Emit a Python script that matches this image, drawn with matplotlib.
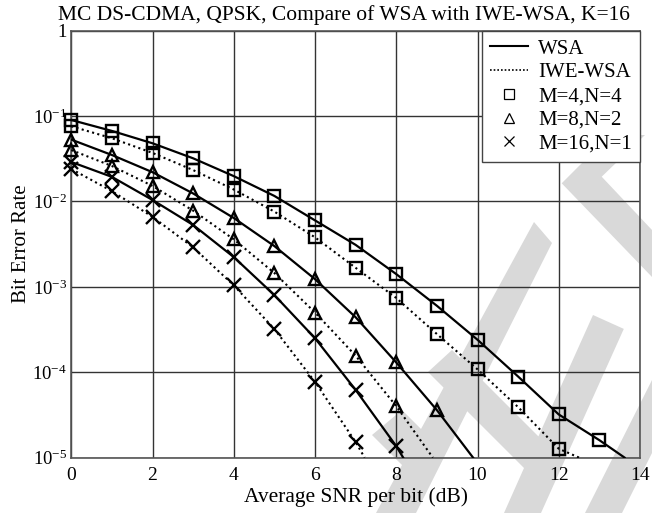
import matplotlib
matplotlib.use("Agg")
import matplotlib.pyplot as plt
from matplotlib.patches import Polygon
from matplotlib.lines import Line2D

plt.rcParams['font.family'] = ['Liberation Serif', 'DejaVu Serif']
plt.rcParams['mathtext.fontset'] = 'custom'
plt.rcParams['mathtext.rm'] = 'Liberation Serif'
plt.rcParams['mathtext.it'] = 'Liberation Serif:italic'

# ---- data ----
snr = list(range(0, 14))
wsa_m4 = [0.090, 0.067, 0.048, 0.032, 0.0198, 0.0116, 0.0060, 0.0031, 0.00141, 0.00060, 0.00024, 8.9e-5, 3.2e-5, 1.6e-5]
iwe_m4 = [0.076, 0.055, 0.037, 0.0233, 0.0138, 0.0076, 0.0038, 0.00167, 0.00074, 0.00028, 0.000108, 3.9e-5, 1.27e-5]
wsa_m8 = [0.053, 0.035, 0.022, 0.0124, 0.0064, 0.0030, 0.00123, 0.00044, 0.00013, 3.6e-5]
iwe_m8 = [0.040, 0.026, 0.0152, 0.0078, 0.0036, 0.00145, 0.00050, 0.000156, 4.0e-5]
wsa_m16 = [0.029, 0.0194, 0.0104, 0.0053, 0.00223, 0.00080, 0.00025, 6.2e-5, 1.36e-5]
iwe_m16 = [0.024, 0.0132, 0.0066, 0.0029, 0.00104, 0.00032, 7.7e-5, 1.52e-5]
# SNR where each curve reaches the bottom of the plot (1e-5)
end_snr = {'wsa_m4': 13.62, 'iwe_m4': 12.5, 'wsa_m8': 9.89, 'iwe_m8': 8.9,
           'wsa_m16': 8.17, 'iwe_m16': 7.22}
ber_floor = 1e-5

x_ticks = [0, 2, 4, 6, 8, 10, 12, 14]
y_ticks = [1e-5, 1e-4, 1e-3, 1e-2, 1e-1, 1]
y_ticklabels = [r'$\mathregular{10^{-5}}$', r'$\mathregular{10^{-4}}$', r'$\mathregular{10^{-3}}$',
                r'$\mathregular{10^{-2}}$', r'$\mathregular{10^{-1}}$', '1']

W, H = 652, 513
fig = plt.figure(figsize=(W / 100, H / 100), dpi=100)
fig.patch.set_facecolor('white')

# ---- watermark (light grey chevrons, pixel coords) ----
def fp(pts):
    return [(x / W, 1 - y / H) for x, y in pts]

wm_color = '#d9d9d9'
wm_shapes = [
    [(610, 135), (561.7, 183.3), (652, 277), (652, 230), (601.7, 176.7), (645, 135)],
    [(372, 435), (402, 410), (421, 429), (534, 222), (552, 243), (416, 513), (376, 513), (402, 465)],
    [(428, 372), (452, 350), (538.4, 436.4), (593, 315), (623.8, 328.9), (541, 513), (504, 513), (524, 468)],
    [(652, 380), (585, 513), (622, 513), (652, 453)],
]
for s in wm_shapes:
    fig.add_artist(Polygon(fp(s), closed=True, transform=fig.transFigure,
                           facecolor=wm_color, edgecolor='none', zorder=0))

ax = fig.add_axes([71.3 / W, 1 - 457.6 / H, (640 - 71.3) / W, (457.6 - 30.7) / H])
ax.set_zorder(1)
ax.set_facecolor('none')
ax.set_yscale('log')
ax.set_xlim(0, 14)
ax.set_ylim(1e-5, 1)

series = [
    (wsa_m4, 'wsa_m4', 's', '-'),
    (iwe_m4, 'iwe_m4', 's', ':'),
    (wsa_m8, 'wsa_m8', '^', '-'),
    (iwe_m8, 'iwe_m8', '^', ':'),
    (wsa_m16, 'wsa_m16', 'x', '-'),
    (iwe_m16, 'iwe_m16', 'x', ':'),
]
for vals, key, mk, ls in series:
    xs = snr[:len(vals)]
    lx = xs + [end_snr[key]]
    ly = vals + [ber_floor]
    if ls == '-':
        ax.plot(lx, ly, color='black', lw=1.6, ls='-', zorder=3, clip_on=True)
    else:
        ax.plot(lx, ly, color='black', lw=1.5, ls=(0, (1, 1.6)), zorder=3, clip_on=True)
    ms = 9 if mk != 'x' else 10
    ax.plot(xs, vals, ls='none', marker=mk, ms=ms, mfc='none', mec='black',
            mew=1.7, zorder=4, clip_on=False)

ax.set_xticks(x_ticks)
ax.set_xticklabels([str(t) for t in x_ticks], fontsize=14)
ax.set_yticks(y_ticks)
ax.set_yticklabels(y_ticklabels, fontsize=13.5)
ax.minorticks_off()
ax.tick_params(axis='x', length=0, pad=7)
ax.tick_params(axis='y', length=0, pad=3)
ax.grid(True, which='major', color='#333333', lw=1.0)
ax.set_axisbelow(True)
for sp in ax.spines.values():
    sp.set_color('#555555')
    sp.set_linewidth(1.2)

ax.set_xlabel('Average SNR per bit (dB)', fontsize=15.5, labelpad=2)
ax.set_ylabel('Bit Error Rate', fontsize=15, labelpad=1)
fig.text(344 / W, 1 - 20 / H, 'MC DS-CDMA, QPSK, Compare of WSA with IWE-WSA, K=16',
         fontsize=15.5, ha='center', va='baseline')

handles = [
    Line2D([], [], color='black', lw=1.5, ls='-'),
    Line2D([], [], color='black', lw=1.2, ls=(0, (1, 1.2))),
    Line2D([], [], ls='none', marker='s', ms=7, mfc='none', mec='black', mew=0.9),
    Line2D([], [], ls='none', marker='^', ms=7, mfc='none', mec='black', mew=0.9),
    Line2D([], [], ls='none', marker='x', ms=7, mfc='none', mec='black', mew=0.9),
]
labels = ['WSA', 'IWE-WSA', 'M=4,N=4', 'M=8,N=2', 'M=16,N=1']
leg = ax.legend(handles, labels, loc='upper right', fontsize=15, frameon=True, fancybox=False,
                edgecolor='#444444', framealpha=1, borderaxespad=0.0, handlelength=1.8,
                labelspacing=0.2, borderpad=0.4, handletextpad=0.5)
leg.get_frame().set_linewidth(1.0)
leg.set_zorder(10)

fig.savefig('out.png', dpi=100, facecolor='white')
